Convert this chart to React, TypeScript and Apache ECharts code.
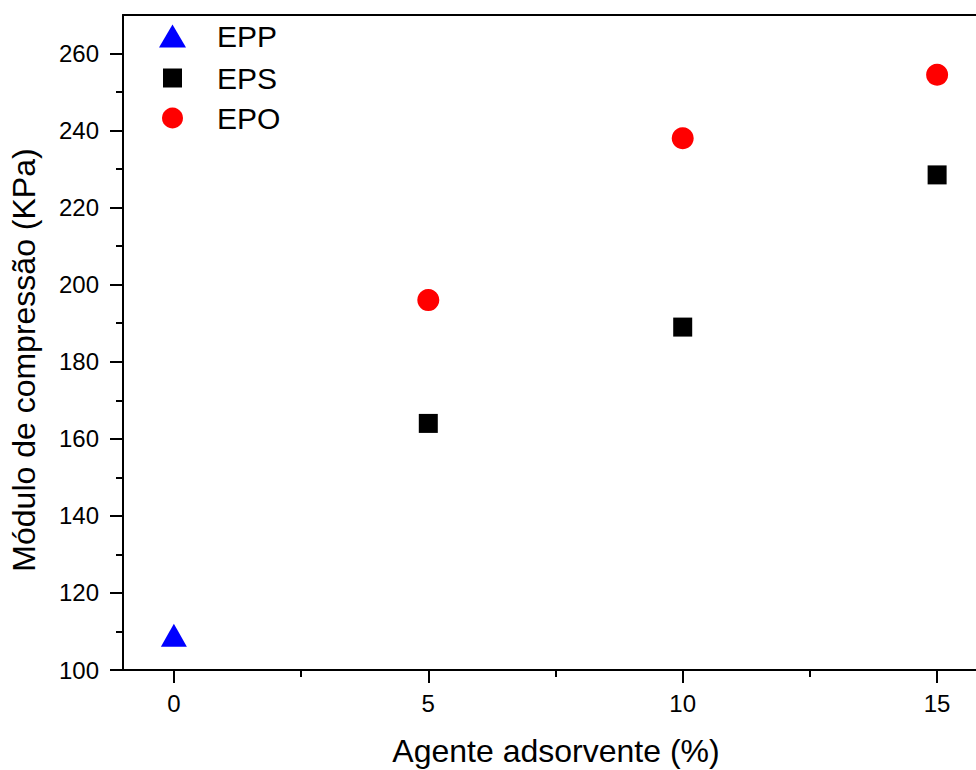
import React, { useEffect, useRef } from "react";
import * as echarts from "echarts";

const eppData: [number, number][] = [[0, 109]];
const epsData: [number, number][] = [[5, 164], [10, 189], [15, 228.5]];
const epoData: [number, number][] = [[5, 196], [10, 238], [15, 254.5]];
const xMajor = [0, 5, 10, 15];
const xMinor = [2.5, 7.5, 12.5];
const yMajor = [100, 120, 140, 160, 180, 200, 220, 240, 260];
const yMinor = [110, 130, 150, 170, 190, 210, 230, 250];
const xTitle = "Agente adsorvente (%)";
const yTitle = "Módulo de compressão (KPa)";

const FONT = "'Liberation Sans', Arial, sans-serif";

export default function App() {
  const ref = useRef<HTMLDivElement>(null);
  useEffect(() => {
    if (!ref.current) return;
    const chart = echarts.init(ref.current, undefined, { renderer: "svg" });
    const line = { show: true, onZero: false, lineStyle: { color: "#000", width: 2 } };
    const noLine = { show: false, onZero: false };
    const legendText = { fontSize: 30, color: "#000", fontFamily: FONT };
    chart.setOption({
      animation: false,
      backgroundColor: "#fff",
      textStyle: { fontFamily: FONT },
      grid: {
        left: 123,
        top: 15,
        right: -12,
        bottom: 100,
        containLabel: false,
        outerBoundsMode: "none",
      },
      xAxis: [
        {
          type: "value",
          position: "bottom",
          min: -1,
          max: 16,
          axisLine: line,
          axisTick: {
            show: true,
            inside: false,
            length: 13,
            customValues: xMajor,
            lineStyle: { color: "#000", width: 2 },
          },
          axisLabel: {
            show: true,
            customValues: xMajor,
            margin: 21,
            fontSize: 24,
            color: "#000",
            fontFamily: FONT,
          },
          splitLine: { show: false },
        },
        {
          type: "value",
          position: "bottom",
          min: -1,
          max: 16,
          axisLine: noLine,
          axisTick: {
            show: true,
            length: 7,
            customValues: xMinor,
            lineStyle: { color: "#000", width: 2 },
          },
          axisLabel: { show: false },
          splitLine: { show: false },
        },
        {
          type: "value",
          position: "top",
          min: -1,
          max: 16,
          axisLine: line,
          axisTick: { show: false },
          axisLabel: { show: false },
          splitLine: { show: false },
        },
      ],
      yAxis: [
        {
          type: "value",
          position: "left",
          min: 100,
          max: 270,
          axisLine: line,
          axisTick: {
            show: true,
            length: 13,
            customValues: yMajor,
            lineStyle: { color: "#000", width: 2 },
          },
          axisLabel: {
            show: true,
            customValues: yMajor,
            margin: 24,
            fontSize: 24,
            color: "#000",
            fontFamily: FONT,
          },
          splitLine: { show: false },
        },
        {
          type: "value",
          position: "left",
          min: 100,
          max: 270,
          axisLine: noLine,
          axisTick: {
            show: true,
            length: 7,
            customValues: yMinor,
            lineStyle: { color: "#000", width: 2 },
          },
          axisLabel: { show: false },
          splitLine: { show: false },
        },
      ],
      legend: [
        {
          data: ["EPP"],
          left: 159,
          top: 21,
          padding: 0,
          itemWidth: 27,
          itemHeight: 23,
          textStyle: { ...legendText, padding: [0, 0, 0, 26] },
        },
        {
          data: ["EPS"],
          left: 163,
          top: 63,
          padding: 0,
          itemWidth: 19,
          itemHeight: 19,
          textStyle: { ...legendText, padding: [0, 0, 0, 30] },
        },
        {
          data: ["EPO"],
          left: 162,
          top: 103,
          padding: 0,
          itemWidth: 21,
          itemHeight: 21,
          textStyle: { ...legendText, padding: [0, 0, 0, 29] },
        },
      ],
      graphic: [
        {
          type: "text",
          x: 556,
          y: 751,
          style: {
            text: xTitle,
            fontSize: 32,
            fontFamily: FONT,
            fill: "#000",
            align: "center",
            verticalAlign: "middle",
          },
        },
        {
          type: "text",
          x: 24,
          y: 360,
          rotation: Math.PI / 2,
          style: {
            text: yTitle,
            fontSize: 32,
            fontFamily: FONT,
            fill: "#000",
            align: "center",
            verticalAlign: "middle",
          },
        },
      ],
      series: [
        {
          name: "EPP",
          type: "scatter",
          symbol: "triangle",
          symbolSize: [26, 23],
          itemStyle: { color: "#0000ff", opacity: 1 },
          data: eppData,
        },
        {
          name: "EPS",
          type: "scatter",
          symbol: "rect",
          symbolSize: 19,
          itemStyle: { color: "#000000", opacity: 1 },
          data: epsData,
        },
        {
          name: "EPO",
          type: "scatter",
          symbol: "circle",
          symbolSize: 22,
          itemStyle: { color: "#ff0000", opacity: 1 },
          data: epoData,
        },
      ],
    });
    return () => chart.dispose();
  }, []);
  return (
    <div
      ref={ref}
      style={{ position: "absolute", left: 0, top: 0, width: 976, height: 770 }}
    />
  );
}
